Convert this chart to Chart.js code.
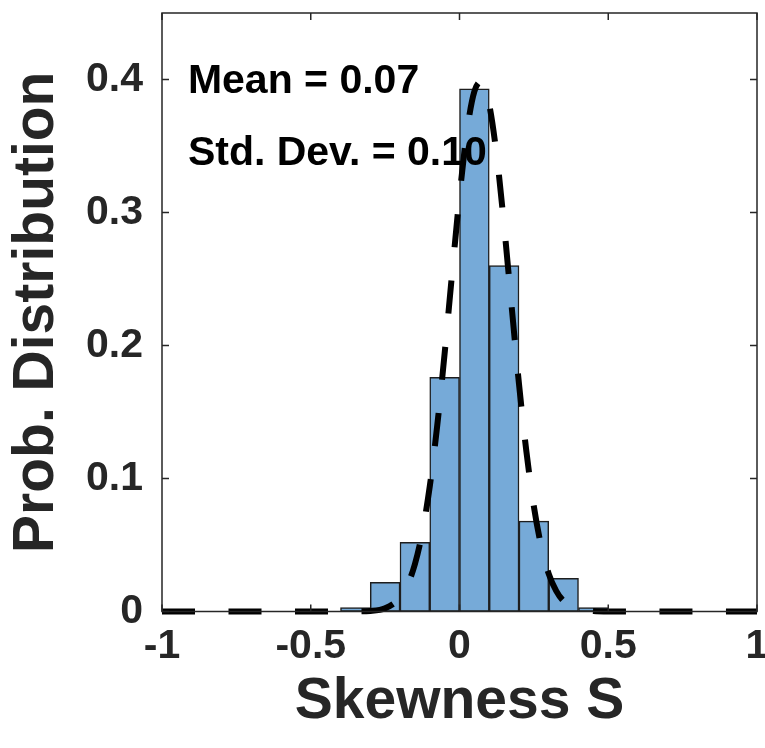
<!DOCTYPE html>
<html>
<head>
<meta charset="utf-8">
<script src="https://cdn.jsdelivr.net/npm/chart.js@4"></script>
<style>
  html, body { margin: 0; padding: 0; background: #ffffff; }
  #wrap { width: 765px; height: 748px; position: relative; }
</style>
</head>
<body>
<div id="wrap"><canvas id="c" width="765" height="748"></canvas></div>
<script>
// ---- data ----
const binCenters = [-0.35, -0.25, -0.15, -0.05, 0.05, 0.15, 0.25, 0.35, 0.45];
const binValues  = [0.003, 0.022, 0.052, 0.176, 0.393, 0.260, 0.068, 0.025, 0.003];

const curveX = [-1, -0.5, -0.35, -0.3, -0.25, -0.2, -0.175, -0.15, -0.125, -0.1, -0.075, -0.05, -0.025,
                0, 0.025, 0.05, 0.075, 0.1, 0.125, 0.15, 0.175, 0.2, 0.225, 0.25, 0.275, 0.3, 0.325,
                0.35, 0.4, 0.45, 0.5, 1];
const curveY = [0, 0, 0.0001, 0.0004, 0.0024, 0.0104, 0.0199, 0.0355, 0.0596, 0.094, 0.1395, 0.194, 0.254,
                0.312, 0.361, 0.391, 0.3985, 0.381, 0.343, 0.290, 0.230, 0.171, 0.120, 0.079, 0.0488, 0.0283, 0.0155,
                0.0079, 0.0017, 0.0003, 0, 0];

const xTicks = [-1, -0.5, 0, 0.5, 1];
const xTickLabels = ['-1', '-0.5', '0', '0.5', '1'];
const yTicks = [0, 0.1, 0.2, 0.3, 0.4];
const yTickLabels = ['0', '0.1', '0.2', '0.3', '0.4'];

const xTitle = 'Skewness S';
const yTitle = 'Prob. Distribution';
const notes = [
  { text: 'Mean = 0.07', x: -0.913, y: 0.390 },
  { text: 'Std. Dev. = 0.10', x: -0.913, y: 0.336 }
];

// ---- chart ----
const FONT = '"Liberation Sans", Arial, Helvetica, sans-serif';
const AX = '#262626';

const boxPlugin = {
  id: 'boxAndTicks',
  beforeDraw(chart) {
    const ctx = chart.ctx;
    ctx.save();
    ctx.fillStyle = '#ffffff';
    ctx.fillRect(0, 0, chart.width, chart.height);
    ctx.restore();
  },
  afterDatasetsDraw(chart) {
    const {ctx, chartArea: a, scales: {x, y}} = chart;
    ctx.save();
    ctx.strokeStyle = AX;
    ctx.lineWidth = 1.5;
    ctx.strokeRect(a.left, a.top, a.right - a.left, a.bottom - a.top);
    const L = 7;
    ctx.beginPath();
    xTicks.forEach(v => {
      const px = x.getPixelForValue(v);
      ctx.moveTo(px, a.bottom); ctx.lineTo(px, a.bottom - L);
      ctx.moveTo(px, a.top); ctx.lineTo(px, a.top + L);
    });
    yTicks.forEach(v => {
      const py = y.getPixelForValue(v);
      ctx.moveTo(a.left, py); ctx.lineTo(a.left + L, py);
      ctx.moveTo(a.right, py); ctx.lineTo(a.right - L, py);
    });
    ctx.stroke();
    ctx.restore();
  },
  afterDraw(chart) {
    const {ctx, scales: {x, y}} = chart;
    ctx.save();
    ctx.fillStyle = '#000000';
    ctx.font = 'bold 41px ' + FONT;
    ctx.textBaseline = 'alphabetic';
    ctx.textAlign = 'left';
    notes.forEach(n => ctx.fillText(n.text, x.getPixelForValue(n.x), y.getPixelForValue(n.y)));
    ctx.restore();
  }
};

new Chart(document.getElementById('c'), {
  type: 'bar',
  data: {
    datasets: [
      {
        type: 'line',
        order: 0,
        data: curveX.map((v, i) => ({x: v, y: curveY[i]})),
        borderColor: '#000000',
        borderWidth: 6,
        borderDash: [33, 33.5],
        borderCapStyle: 'butt',
        pointRadius: 0,
        fill: false,
        cubicInterpolationMode: 'monotone',
        clip: false
      },
      {
        type: 'bar',
        order: 1,
        data: binCenters.map((v, i) => ({x: v, y: binValues[i]})),
        backgroundColor: 'rgb(118,170,216)',
        borderColor: '#1e1e1e',
        borderWidth: 1.5,
        borderSkipped: false,
        barPercentage: 1,
        categoryPercentage: 1
      }
    ]
  },
  options: {
    responsive: false,
    maintainAspectRatio: false,
    animation: false,
    devicePixelRatio: 1,
    layout: { padding: { top: 13, right: 8, bottom: 0, left: 0 } },
    plugins: { legend: { display: false }, tooltip: { enabled: false } },
    scales: {
      x: {
        type: 'linear',
        min: -1, max: 1,
        offset: false,
        grid: { display: false, drawTicks: false },
        border: { display: false },
        afterBuildTicks: s => { s.ticks = xTicks.map(v => ({value: v})); },
        afterFit: s => { s.height = 136.5; s.paddingLeft = 0; s.paddingRight = 0; },
        ticks: {
          autoSkip: false, maxRotation: 0, padding: 11,
          color: AX, font: { family: FONT, size: 41, weight: 'bold' },
          callback: (v, i) => xTickLabels[i]
        },
        title: {
          display: true, text: xTitle, color: AX,
          font: { family: FONT, size: 57, weight: 'bold' },
          padding: { top: 0, bottom: 12 }
        }
      },
      y: {
        type: 'linear',
        min: 0, max: 0.45,
        grid: { display: false, drawTicks: false },
        border: { display: false },
        afterBuildTicks: s => { s.ticks = yTicks.map(v => ({value: v})); },
        afterFit: s => { s.width = 162; s.paddingTop = 0; s.paddingBottom = 0; },
        ticks: {
          autoSkip: false, padding: 19,
          color: AX, font: { family: FONT, size: 41, weight: 'bold' },
          callback: (v, i) => yTickLabels[i]
        },
        title: {
          display: true, text: yTitle, color: AX,
          font: { family: FONT, size: 57, weight: 'bold' },
          padding: { top: 3, bottom: 0 }
        }
      }
    }
  },
  plugins: [boxPlugin]
});
</script>
</body>
</html>
